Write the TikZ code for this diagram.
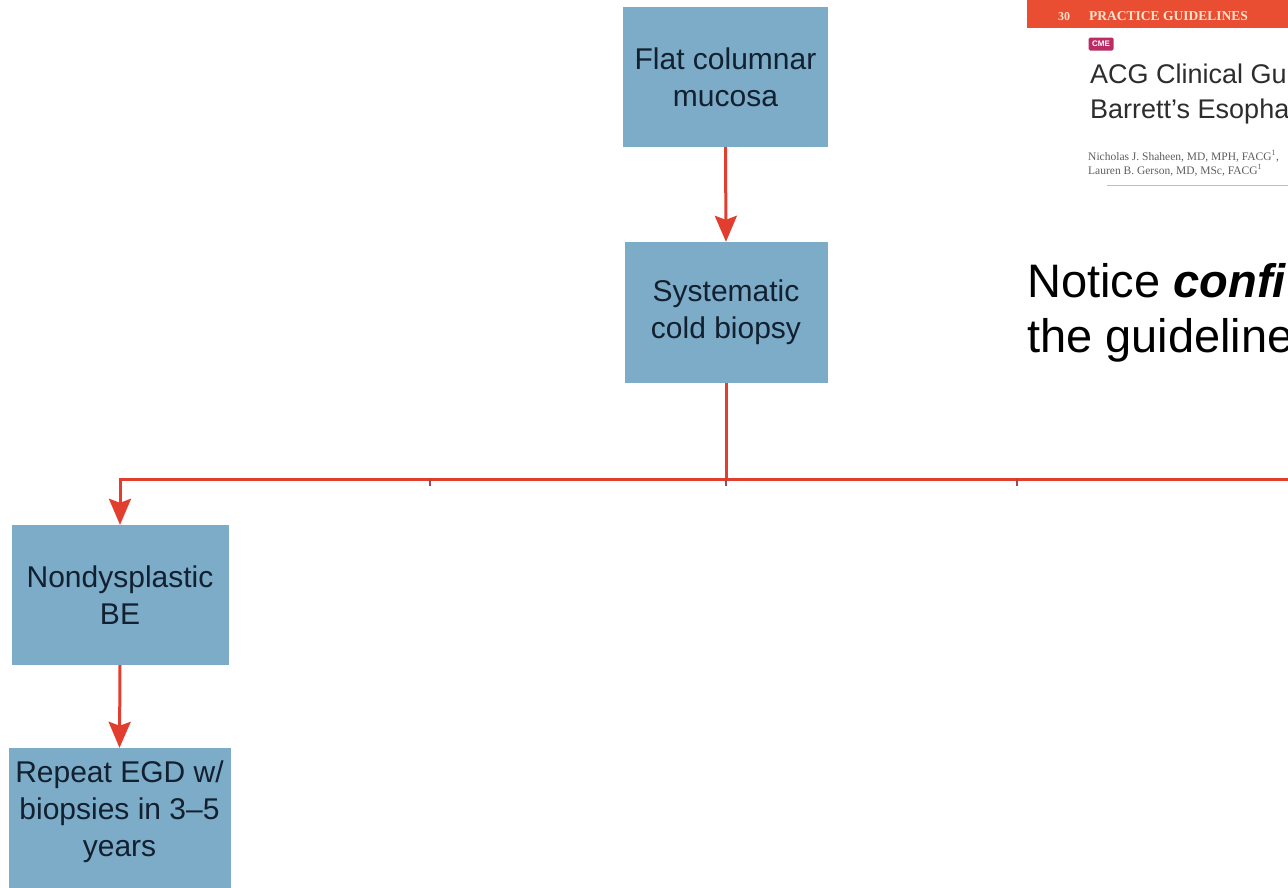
\documentclass[tikz,border=0pt]{standalone}
\usepackage{fontspec}
\setmainfont{Liberation Sans}
\newfontfamily\serifx{Liberation Serif}
\usetikzlibrary{arrows.meta}
\definecolor{boxblue}{RGB}{124,172,199}
\definecolor{boxtext}{RGB}{18,32,48}
\definecolor{flowred}{RGB}{226,62,48}
\definecolor{stubred}{RGB}{170,70,70}
\definecolor{bannerred}{RGB}{234,78,50}
\definecolor{bannertext}{RGB}{250,228,205}
\definecolor{cmepink}{RGB}{185,45,100}
\definecolor{titlegray}{RGB}{45,45,45}
\definecolor{authgray}{RGB}{95,95,95}
\definecolor{rulegray}{RGB}{190,190,190}
\begin{document}
\begin{tikzpicture}[x=1pt,y=-1pt,
  flowbox/.style={fill=boxblue, text=boxtext, align=center, inner sep=0pt,
    font=\fontsize{30}{37}\selectfont},
  flowline/.style={draw=flowred, line width=3pt},
  flowarrow/.style={flowline, -{Stealth[length=26pt,width=22pt,inset=4pt]}},
  stubline/.style={draw=stubred, line width=2pt},
  plaintext/.style={anchor=base west, inner sep=0pt},
]
\useasboundingbox (0,0) rectangle (1288,887);
\clip (0,0) rectangle (1288,887);
\fill[white] (0,0) rectangle (1288,887);

% flow boxes
\node[flowbox, minimum width=205pt, minimum height=140pt] (fcm) at (725.5,77) {Flat columnar\\mucosa};
\node[flowbox, minimum width=203pt, minimum height=141pt] (scb) at (726,312.5) {Systematic\\cold biopsy};
\node[flowbox, minimum width=217pt, minimum height=140pt] (nbe) at (120,595) {Nondysplastic\\BE};
\node[flowbox, minimum width=222pt, minimum height=140pt] (rep) at (119.5,818) {Repeat EGD w/\\biopsies in 3--5\\years\rule[-18pt]{0pt}{1pt}};

% connectors
\coordinate (rowy) at (0,479);
\coordinate (lefttop) at (nbe.north |- rowy);
\coordinate (rightend) at (1295,479);
\coordinate (hub) at (scb.south |- rowy);
\coordinate (stubA) at (430,479);
\coordinate (stubAend) at (430,486);
\coordinate (stubB) at (1017,479);
\coordinate (stubBend) at (1017,486);
\coordinate (stubC) at (726,479);
\coordinate (stubCend) at (726,486);

\draw[flowarrow] (fcm.south) -- (scb.north);
\draw[flowline] (scb.south) -- (hub);
\draw[flowarrow, line join=miter] (rightend) -- (lefttop) -- (nbe.north);
\draw[flowarrow] (nbe.south) -- (rep.north);
\draw[stubline] (stubA) -- (stubAend);
\draw[stubline] (stubB) -- (stubBend);
\draw[stubline] (stubC) -- (stubCend);

% article excerpt
\fill[bannerred] (1027,0) rectangle (1295,28);
\node[plaintext, text=bannertext, font=\serifx\bfseries\fontsize{12}{14}\selectfont] (pagenum) at (1058,20) {30};
\node[plaintext, text=bannertext, font=\serifx\bfseries\fontsize{13.5}{15}\selectfont] (bannertitle) at (1089,20) {PRACTICE GUIDELINES};
\node[fill=cmepink, text=white, font=\bfseries\fontsize{8}{9}\selectfont, inner sep=0pt,
  rounded corners=1.5pt, minimum width=25pt, minimum height=13pt] (cme) at (1101,44) {CME};
\node[plaintext, text=titlegray, font=\fontsize{27}{35}\selectfont] (title1) at (1090,83) {ACG Clinical Gu};
\node[plaintext, text=titlegray, font=\fontsize{27}{35}\selectfont] (title2) at (1090,118) {Barrett's Esopha};
\node[plaintext, text=authgray, font=\serifx\fontsize{11.5}{13}\selectfont] (auth1) at (1088,160) {Nicholas J. Shaheen, MD, MPH, FACG\textsuperscript{1},};
\node[plaintext, text=authgray, font=\serifx\fontsize{11.5}{13}\selectfont] (auth2) at (1088,174) {Lauren B. Gerson, MD, MSc, FACG\textsuperscript{1}};
\coordinate (ruleA) at (1107,185);
\coordinate (ruleB) at (1295,185);
\draw[rulegray, line width=1pt] (ruleA) -- (ruleB);

% comment text
\node[plaintext, text=black, font=\fontsize{47}{56}\selectfont] (notice1) at (1027,297) {Notice \textbf{\textit{confi}}};
\node[plaintext, text=black, font=\fontsize{47}{56}\selectfont] (notice2) at (1027,352) {the guideline};
\end{tikzpicture}
\end{document}
